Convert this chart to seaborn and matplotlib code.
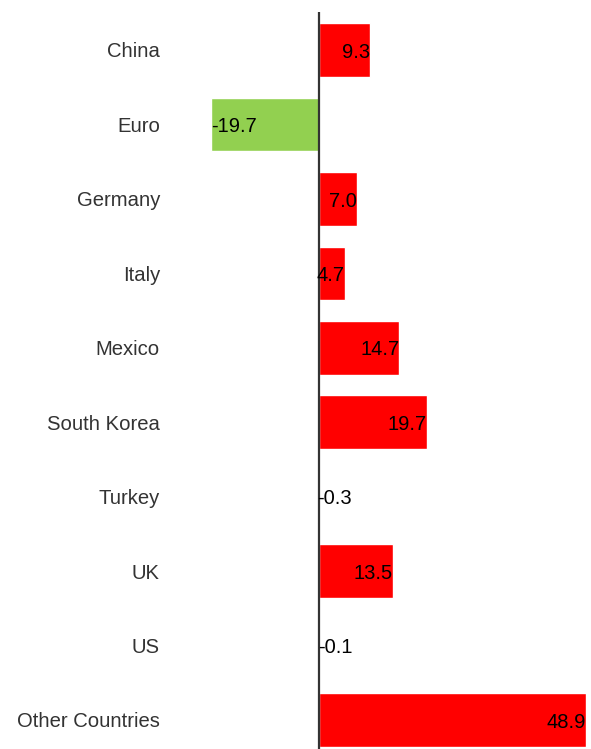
import matplotlib
matplotlib.use("Agg")
import matplotlib.pyplot as plt
import seaborn as sns
import pandas as pd

countries = ["China", "Euro", "Germany", "Italy", "Mexico", "South Korea",
             "Turkey", "UK", "US", "Other Countries"]
values = [9.3, -19.7, 7.0, 4.7, 14.7, 19.7, -0.3, 13.5, -0.1, 48.9]

pos_color = "#ff0000"
neg_color = "#92d050"

sns.set_theme(style="white")
plt.rcParams["font.family"] = ["Liberation Sans", "DejaVu Sans"]

df = pd.DataFrame({"country": countries, "value": values})
palette = {c: (pos_color if v >= 0 else neg_color) for c, v in zip(countries, values)}

fig = plt.figure(figsize=(5.91, 7.49), dpi=100)
ax = fig.add_axes([171 / 591, 0.0, (586 - 171) / 591, (749 - 12) / 749])

sns.barplot(data=df, x="value", y="country", hue="country", palette=palette,
            orient="h", width=0.72, legend=False, ax=ax, saturation=1)

ax.set_xlim(-(319 - 171) / 5.46, 48.9)
ax.set_ylim(9.39, -0.51)
ax.axvline(0, color="#333333", lw=1.6, zorder=5)

for i, v in enumerate(values):
    ax.text(v, i + 0.03, f"{v:.1f}", ha="right" if v >= 0 else "left",
            va="center", fontsize=14.5, color="black", zorder=6)

ax.set_xlabel("")
ax.set_ylabel("")
ax.set_xticks([])
ax.tick_params(axis="y", length=0, pad=8, labelsize=14.6, labelcolor="#333333")
for lbl in ax.get_yticklabels():
    lbl.set_verticalalignment("center_baseline")
for s in ax.spines.values():
    s.set_visible(False)

fig.savefig("out.png", dpi=100)
